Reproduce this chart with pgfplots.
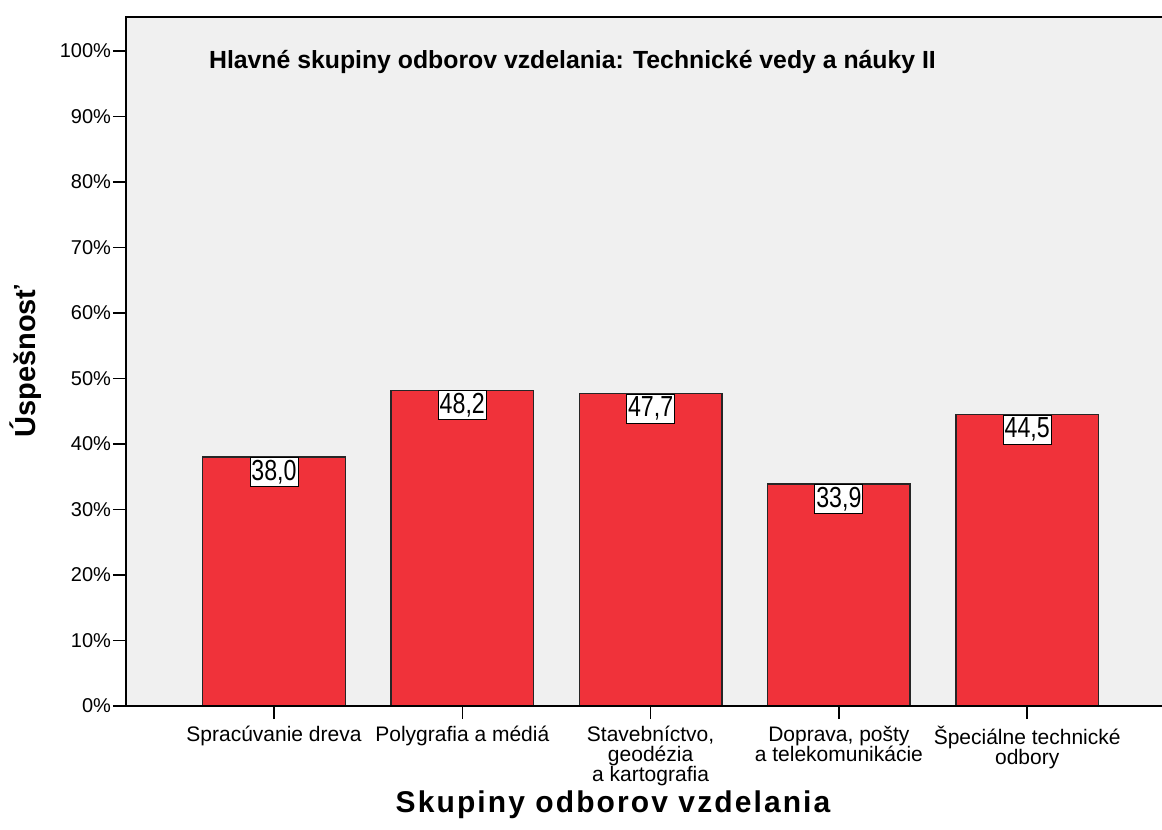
\documentclass[border=0pt]{standalone}
\usepackage{pgfplots}
\pgfplotsset{compat=1.18}
\usepackage{fontspec}
\setmainfont{Liberation Sans}
\definecolor{barred}{RGB}{240,50,58}
\definecolor{bg}{RGB}{240,240,240}
\begin{document}
\begin{tikzpicture}
\begin{axis}[
  at={(0,0)}, anchor=south west,
  width=518pt, height=344.5pt, scale only axis,
  xmin=-0.786, xmax=4.716, ymin=0, ymax=105.2,
  clip=false,
  axis line style={draw=none},
  axis background/.style={fill=bg},
  ybar, bar width=0.757,
  /pgf/number format/assume math mode=true,
  ytick={0,10,...,100},
  yticklabel={\pgfmathprintnumber{\tick}\%},
  xtick={0,1,2,3,4},
  xticklabels={Spracúvanie dreva, Polygrafia a médiá, {Stavebníctvo,\\geodézia\\a kartografia}, {Doprava, pošty\\a telekomunikácie}, {Špeciálne technické\\odbory}},
  xticklabel style={align=center, font=\fontsize{10.5}{10}\selectfont, anchor=north, yshift=0pt},
  yticklabel style={font=\fontsize{10}{11}\selectfont, xshift=2.5pt},
  tick align=outside, xtick pos=bottom, ytick pos=left,
  major tick length=6.5pt,
  tick style={black, line width=0.75pt},
  nodes near coords={\pgfmathprintnumber[fixed,fixed zerofill,precision=1,use comma]{\pgfplotspointmeta}},
  nodes near coords style={anchor=north, fill=white, draw=black, line width=0.5pt, inner sep=0pt, minimum width=24pt, minimum height=14.5pt, font=\fontsize{14.5}{14.5}\selectfont\addfontfeature{FakeStretch=0.8}},
]
\addplot[fill=barred, draw=black!85, line width=0.75pt] coordinates {(0,38.0) (1,48.2) (2,47.7) (3,33.9) (4,44.5)};
\draw[line width=0.75pt] (axis description cs:0,0) -- (axis description cs:0,1) -- (axis description cs:1,1);
\draw[line width=0.75pt] (axis description cs:0,0) -- (axis description cs:1,0);
\node[anchor=west, font=\bfseries\fontsize{12.4}{14}\selectfont] at (axis description cs:0.0734,0.9347) {Hlavné skupiny odborov vzdelania: Technické vedy a náuky II};
\node[rotate=90, anchor=center, font=\bfseries\fontsize{14.5}{14.5}\selectfont] at (axis description cs:-0.0965,0.5) {Úspešnosť};
\node[anchor=center, font=\bfseries\fontsize{15}{15}\selectfont] at (axis description cs:0.4701,-0.1437) {\addfontfeature{LetterSpace=7}Skupiny odborov vzdelania};
\end{axis}
\pgfresetboundingbox
\useasboundingbox (-63pt,-62pt) rectangle (518pt,353pt);
\end{tikzpicture}
\end{document}
